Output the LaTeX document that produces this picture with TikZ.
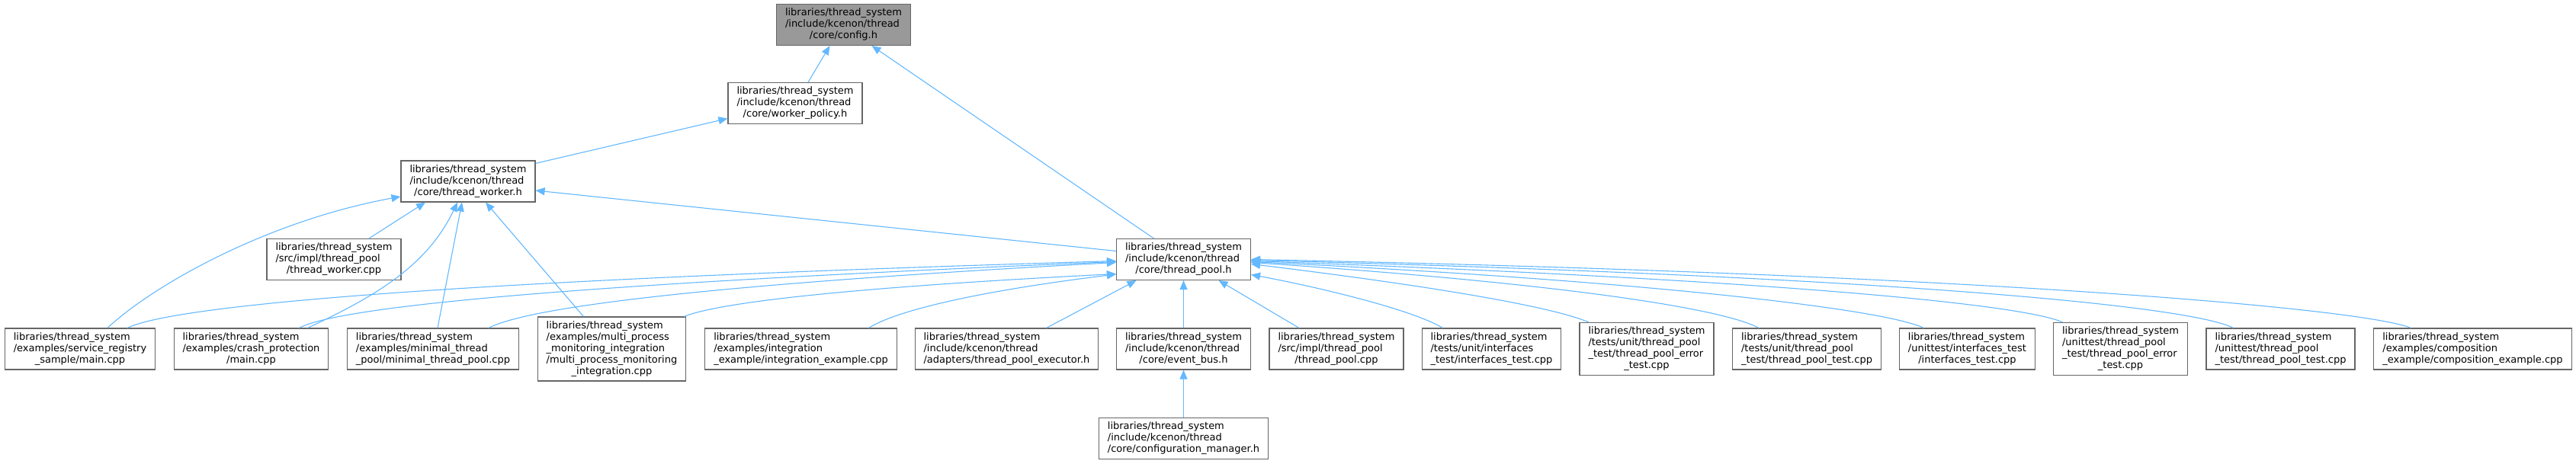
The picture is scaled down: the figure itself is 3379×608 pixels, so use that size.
\documentclass[tikz,border=0pt]{standalone}
\usepackage{fontspec}
\setmainfont{DejaVu Sans}
\usetikzlibrary{arrows.meta}

\definecolor{depblue}{HTML}{63B8FF}
\definecolor{boxgray}{HTML}{666666}
\definecolor{rootgray}{HTML}{999999}

% file label: left-aligned lines, last line centred
\providecommand{\flabel}[2]{\begin{tabular}{@{}l@{}}#1\\\multicolumn{1}{@{}c@{}}{#2}\end{tabular}}

\begin{document}
\begin{tikzpicture}[
    x=1pt, y=-1pt,
    filebox/.style={draw=boxgray, fill=white, line width=1.1pt, inner xsep=11.5pt, inner ysep=4.5pt, font=\fontsize{13}{15}\selectfont},
    rootbox/.style={filebox, fill=rootgray},
    dep/.style={draw=depblue, line width=1.1pt, -{Triangle[length=12pt, width=10pt]}}
]
    \useasboundingbox (0,0) rectangle (3379,608);

    % ==================== HEADERS ====================
    \node[rootbox] (config) at (1106.5, 32.5) {\flabel{libraries/thread\_system\\/include/kcenon/thread}{/core/config.h}};
    \node[filebox] (policy) at (1043, 135.5) {\flabel{libraries/thread\_system\\/include/kcenon/thread}{/core/worker\_policy.h}};
    \node[filebox] (worker) at (614, 238) {\flabel{libraries/thread\_system\\/include/kcenon/thread}{/core/thread\_worker.h}};
    \node[filebox] (pool) at (1552.5, 340.5) {\flabel{libraries/thread\_system\\/include/kcenon/thread}{/core/thread\_pool.h}};
    \node[filebox] (workercpp) at (438, 340.5) {\flabel{libraries/thread\_system\\/src/impl/thread\_pool}{/thread\_worker.cpp}};

    % ==================== INCLUDING FILES ====================
    \node[filebox] (service) at (105, 458) {\flabel{libraries/thread\_system\\/examples/service\_registry}{\_sample/main.cpp}};
    \node[filebox] (crash) at (329.5, 458) {\flabel{libraries/thread\_system\\/examples/crash\_protection}{/main.cpp}};
    \node[filebox] (minimal) at (568, 458) {\flabel{libraries/thread\_system\\/examples/minimal\_thread}{\_pool/minimal\_thread\_pool.cpp}};
    \node[filebox] (multi) at (802.5, 458) {\flabel{libraries/thread\_system\\/examples/multi\_process\\\_monitoring\_integration\\/multi\_process\_monitoring}{\_integration.cpp}};
    \node[filebox] (integ) at (1050.5, 458) {\flabel{libraries/thread\_system\\/examples/integration}{\_example/integration\_example.cpp}};
    \node[filebox] (executor) at (1320.5, 458) {\flabel{libraries/thread\_system\\/include/kcenon/thread}{/adapters/thread\_pool\_executor.h}};
    \node[filebox] (eventbus) at (1552.5, 458) {\flabel{libraries/thread\_system\\/include/kcenon/thread}{/core/event\_bus.h}};
    \node[filebox] (poolcpp) at (1753, 458) {\flabel{libraries/thread\_system\\/src/impl/thread\_pool}{/thread\_pool.cpp}};
    \node[filebox] (ifacetest) at (1956.5, 458) {\flabel{libraries/thread\_system\\/tests/unit/interfaces}{\_test/interfaces\_test.cpp}};
    \node[filebox] (tperror) at (2160, 458) {\flabel{libraries/thread\_system\\/tests/unit/thread\_pool\\\_test/thread\_pool\_error}{\_test.cpp}};
    \node[filebox] (tptest) at (2370, 458) {\flabel{libraries/thread\_system\\/tests/unit/thread\_pool}{\_test/thread\_pool\_test.cpp}};
    \node[filebox] (uiface) at (2580.5, 458) {\flabel{libraries/thread\_system\\/unittest/interfaces\_test}{/interfaces\_test.cpp}};
    \node[filebox] (uerror) at (2781.5, 458) {\flabel{libraries/thread\_system\\/unittest/thread\_pool\\\_test/thread\_pool\_error}{\_test.cpp}};
    \node[filebox] (utptest) at (2991.5, 458) {\flabel{libraries/thread\_system\\/unittest/thread\_pool}{\_test/thread\_pool\_test.cpp}};
    \node[filebox] (compo) at (3243.5, 458) {\flabel{libraries/thread\_system\\/examples/composition}{\_example/composition\_example.cpp}};
    \node[filebox] (confmgr) at (1552.5, 575.5) {\flabel{libraries/thread\_system\\/include/kcenon/thread}{/core/configuration\_manager.h}};

    % ==================== UPPER EDGES ====================
    \draw[dep] ([xshift=17pt]policy.north) -- ([xshift=-18pt]config.south);
    \draw[dep] ([xshift=-39pt]pool.north) -- ([xshift=37pt]config.south);
    \draw[dep] ([yshift=-4pt]worker.north east) -- ([yshift=-20pt]policy.west);
    \draw[dep] ([yshift=11pt]pool.west) -- ([yshift=-12pt]worker.east);

    % ==================== EDGES TO thread_worker.h ====================
    \draw[dep] ([xshift=36pt]service.north) .. controls (200,375) and (350,290) .. ([yshift=-20pt]worker.west);
    \draw[dep] ([xshift=46pt]workercpp.north) -- ([xshift=-56pt]worker.south);
    \draw[dep] ([xshift=74pt]crash.north) .. controls (490,390) and (560,350) .. ([xshift=-14pt]worker.south);
    \draw[dep] ([xshift=6pt]minimal.north) -- ([xshift=-8pt]worker.south);
    \draw[dep] ([xshift=-37pt]multi.north) -- ([xshift=23pt]worker.south);

    % ==================== EDGES TO thread_pool.h ====================
    % from the left
    \draw[dep] ([xshift=62pt]service.north) .. controls (230,400) and (600,368) .. ([yshift=-2pt]pool.west);
    \draw[dep] ([xshift=63pt]crash.north) .. controls (440,405) and (700,375) .. ([yshift=-3pt]pool.west);
    \draw[dep] ([xshift=73pt]minimal.north) .. controls (690,405) and (900,375) .. ([yshift=-4pt]pool.west);
    \draw[dep] ([xshift=-3pt]multi.north east) .. controls (940,398) and (1100,378) .. ([yshift=-19pt]pool.west);
    \draw[dep] ([xshift=89pt]integ.north) .. controls (1180,405) and (1300,380) .. ([yshift=-19.5pt]pool.west);
    % from below
    \draw[dep] ([xshift=52pt]executor.north) -- ([xshift=-62pt]pool.south);
    \draw[dep] (eventbus.north) -- (pool.south);
    \draw[dep] ([xshift=-49pt]poolcpp.north) -- ([xshift=46pt]pool.south);
    % from the right
    \draw[dep] ([xshift=-64pt]ifacetest.north) .. controls (1850,405) and (1720,375) .. ([yshift=-20pt]pool.east);
    \draw[dep] ([xshift=-76pt]tperror.north) .. controls (2030,400) and (1850,372) .. ([yshift=-6pt]pool.east);
    \draw[dep] ([xshift=-63pt]tptest.north) .. controls (2260,405) and (2050,372) .. ([yshift=-4pt]pool.east);
    \draw[dep] ([xshift=-57pt]uiface.north) .. controls (2470,405) and (2150,368) .. ([yshift=-3pt]pool.east);
    \draw[dep] ([xshift=-76pt]uerror.north) .. controls (2650,398) and (2300,366) .. ([yshift=-2pt]pool.east);
    \draw[dep] ([xshift=-62pt]utptest.north) .. controls (2870,400) and (2450,362) .. ([yshift=-1pt]pool.east);
    \draw[dep] ([xshift=-81pt]compo.north) .. controls (3100,405) and (2600,360) .. (pool.east);

    % ==================== LOWER EDGE ====================
    \draw[dep] (confmgr.north) -- (eventbus.south);

\end{tikzpicture}
\end{document}
